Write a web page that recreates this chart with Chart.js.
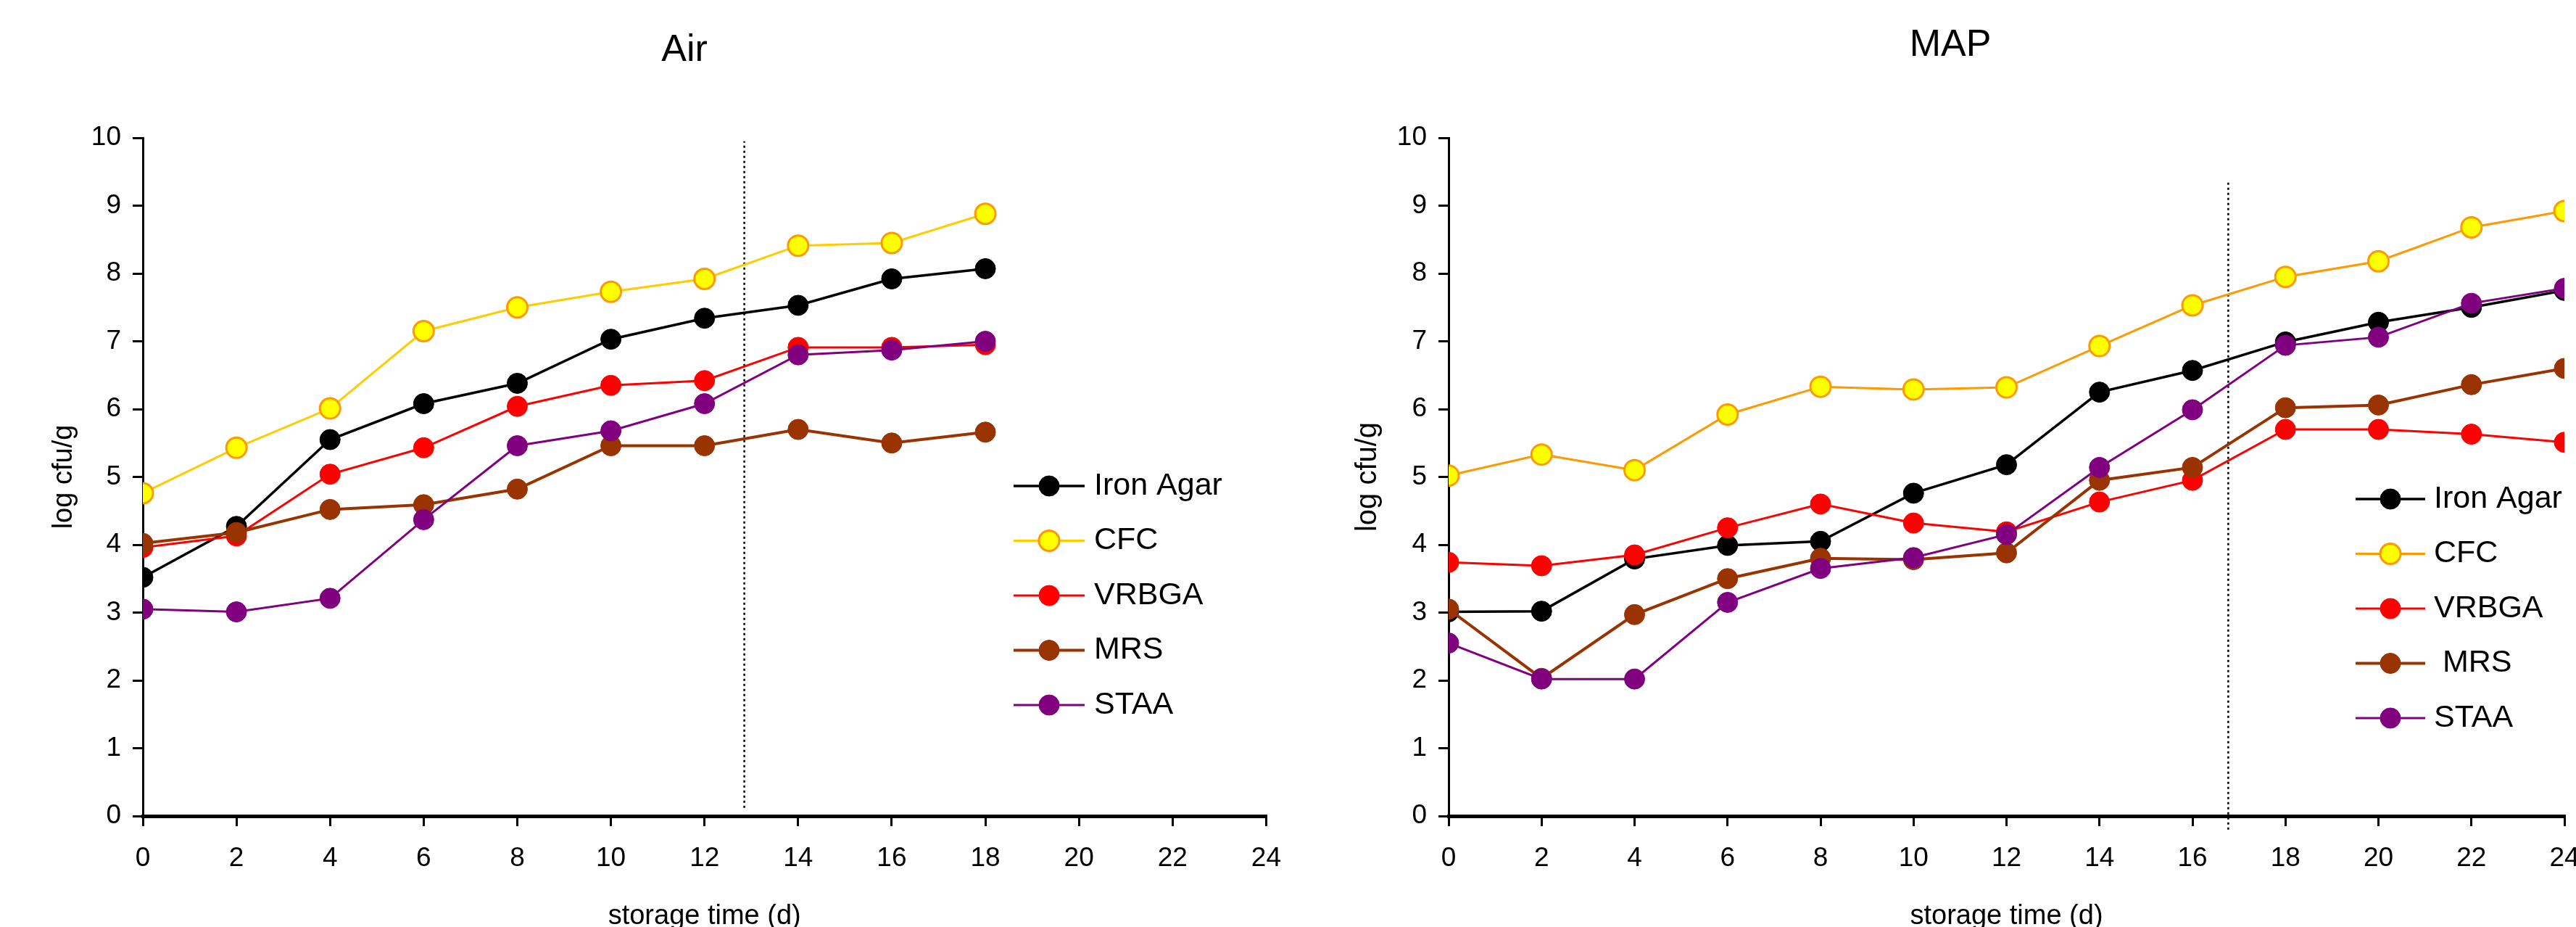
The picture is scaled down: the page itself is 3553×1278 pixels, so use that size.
<!DOCTYPE html>
<html>
<head>
<meta charset="utf-8">
<title>Air / MAP</title>
<script src="https://cdn.jsdelivr.net/npm/chart.js@4.4.1/dist/chart.umd.min.js"></script>
<style>
  html, body { margin: 0; padding: 0; background: #fff; overflow: hidden; width: 3553px; height: 1278px; }
  canvas { position: absolute; top: 0; }
  #grafikAir { left: 0; }
  #grafikMap { left: 1790px; }
</style>
</head>
<body>
<canvas id="grafikAir" width="1790" height="1300"></canvas>
<canvas id="grafikMap" width="1800" height="1300"></canvas>
<script>
// data
const airNames = ['Iron Agar', 'CFC', 'VRBGA', 'MRS', 'STAA'];
const mapNames = ['Iron Agar', 'CFC', 'VRBGA', ' MRS', 'STAA'];
const dayTicks = [0, 2, 4, 6, 8, 10, 12, 14, 16, 18, 20, 22, 24];
const logTicks = [0, 1, 2, 3, 4, 5, 6, 7, 8, 9, 10];

const airDays = [0, 2, 4, 6, 8, 10, 12, 14, 16, 18];
const airIronAgar = [3.52, 4.27, 5.55, 6.08, 6.38, 7.03, 7.34, 7.53, 7.92, 8.07];
const airCFC = [4.76, 5.43, 6.01, 7.15, 7.50, 7.73, 7.92, 8.41, 8.45, 8.88];
const airVRBGA = [3.96, 4.13, 5.04, 5.43, 6.04, 6.35, 6.42, 6.91, 6.91, 6.95];
const airMRS = [4.02, 4.18, 4.52, 4.59, 4.82, 5.46, 5.46, 5.70, 5.50, 5.66];
const airSTAA = [3.05, 3.01, 3.21, 4.37, 5.46, 5.68, 6.08, 6.80, 6.87, 7.00];
const airCutoff = [{ x: 12.85, y: 0.12 }, { x: 12.85, y: 9.95 }];

const mapDays = [0, 2, 4, 6, 8, 10, 12, 14, 16, 18, 20, 22, 24];
const mapIronAgar = [3.01, 3.02, 3.79, 3.99, 4.05, 4.76, 5.18, 6.25, 6.57, 6.99, 7.28, 7.50, 7.75];
const mapCFC = [5.02, 5.33, 5.10, 5.92, 6.33, 6.29, 6.32, 6.93, 7.53, 7.95, 8.18, 8.68, 8.92];
const mapVRBGA = [3.74, 3.69, 3.85, 4.25, 4.60, 4.32, 4.19, 4.63, 4.95, 5.70, 5.70, 5.63, 5.51];
const mapMRS = [3.05, 2.03, 2.97, 3.50, 3.80, 3.78, 3.88, 4.95, 5.14, 6.02, 6.06, 6.36, 6.60];
const mapSTAA = [2.55, 2.02, 2.02, 3.15, 3.65, 3.81, 4.15, 5.14, 5.99, 6.94, 7.06, 7.56, 7.78];
const mapCutoff = [{ x: 16.77, y: -0.2 }, { x: 16.77, y: 9.36 }];

// styles
const fontFamily = '"Liberation Sans", Arial, sans-serif';
const airLineColors = ['#000000', '#FFCC00', '#FF0000', '#993300', '#800080'];
const mapLineColors = ['#000000', '#FF9900', '#FF0000', '#993300', '#800080'];
const pointFills = ['#000000', '#FFFF00', '#FF0000', '#993300', '#800080'];
const pointBorders = ['#000000', '#FF9900', '#FF0000', '#993300', '#800080'];
const lineWidths = [3.5, 3, 3, 4, 3];

Chart.defaults.font.family = fontFamily;
Chart.defaults.color = '#000';

function buatDatasets(days, seriesList, names, lineColors, cutoff) {
  const sets = seriesList.map((values, i) => ({
    label: names[i],
    data: values.map((v, j) => ({ x: days[j], y: v })),
    borderColor: lineColors[i],
    borderWidth: lineWidths[i],
    pointRadius: 14,
    pointBackgroundColor: pointFills[i],
    pointBorderColor: pointBorders[i],
    pointBorderWidth: i === 1 ? 3 : 1,
    order: seriesList.length - i,
    tension: 0
  }));
  sets.push({
    label: 'cutoff',
    data: cutoff,
    borderColor: '#000',
    borderWidth: 2.5,
    borderDash: [3, 4],
    pointRadius: 0,
    clip: false,
    order: 10
  });
  return sets;
}

// title above each panel
const panelTitle = {
  id: 'panelTitle',
  afterDraw(chart, args, opts) {
    const ctx = chart.ctx;
    ctx.save();
    ctx.font = opts.size + 'px ' + fontFamily;
    ctx.fillStyle = '#000';
    ctx.textAlign = 'center';
    ctx.textBaseline = 'middle';
    ctx.fillText(opts.text, opts.x, opts.y);
    ctx.restore();
  }
};

// legend inside the plot, like the original
const sideLegend = {
  id: 'sideLegend',
  afterDatasetsDraw(chart, args, opts) {
    const ctx = chart.ctx;
    ctx.save();
    opts.labels.forEach((label, i) => {
      const ds = chart.data.datasets[i];
      const y = opts.top + i * opts.rowGap;
      ctx.strokeStyle = ds.borderColor;
      ctx.lineWidth = ds.borderWidth;
      ctx.beginPath();
      ctx.moveTo(opts.lineStart, y);
      ctx.lineTo(opts.lineEnd, y);
      ctx.stroke();
      ctx.beginPath();
      ctx.arc((opts.lineStart + opts.lineEnd) / 2, y, ds.pointRadius, 0, Math.PI * 2);
      ctx.fillStyle = ds.pointBackgroundColor;
      ctx.fill();
      ctx.lineWidth = ds.pointBorderWidth;
      ctx.strokeStyle = ds.pointBorderColor;
      ctx.stroke();
      ctx.fillStyle = '#000';
      ctx.font = opts.size + 'px ' + fontFamily;
      ctx.textAlign = 'left';
      ctx.textBaseline = 'middle';
      ctx.fillText(label, opts.textX, y);
    });
    ctx.restore();
  }
};

function buatScales(yAxisWidth, yTitlePad, yTitleSize) {
  return {
    x: {
      type: 'linear',
      min: 0,
      max: 24,
      afterBuildTicks: (axis) => { axis.ticks = dayTicks.map(v => ({ value: v })); },
      afterFit: (axis) => { axis.height = 175; },
      grid: { drawOnChartArea: false, tickLength: 14, lineWidth: 3, color: '#000' },
      border: { color: '#000', width: 5 },
      ticks: { padding: 23, autoSkip: false, maxRotation: 0, font: { size: 37 } },
      title: { display: true, text: 'storage time (d)', font: { size: 38 }, padding: { top: 0, bottom: 14 } }
    },
    y: {
      min: 0,
      max: 10,
      afterBuildTicks: (axis) => { axis.ticks = logTicks.map(v => ({ value: v })); },
      afterFit: (axis) => { axis.width = yAxisWidth; },
      grid: { drawOnChartArea: false, tickLength: 14, lineWidth: 3, color: '#000' },
      border: { color: '#000', width: 3 },
      ticks: { padding: 16, font: { size: 37 } },
      title: { display: true, text: 'log cfu/g', font: { size: yTitleSize }, padding: { top: yTitlePad, bottom: 0 } }
    }
  };
}

function tampilkanChart(canvasId, datasets, scales, padRight, titleOpts, legendOpts) {
  const ctx = document.getElementById(canvasId).getContext('2d');
  new Chart(ctx, {
    type: 'line',
    data: { datasets: datasets },
    options: {
      responsive: false,
      animation: false,
      layout: { padding: { left: 0, right: padRight, top: 190, bottom: 0 } },
      scales: scales,
      plugins: {
        legend: { display: false },
        tooltip: { enabled: false },
        panelTitle: titleOpts,
        sideLegend: legendOpts
      }
    },
    plugins: [panelTitle, sideLegend]
  });
}

tampilkanChart(
  'grafikAir',
  buatDatasets(airDays, [airIronAgar, airCFC, airVRBGA, airMRS, airSTAA], airNames, airLineColors, airCutoff),
  buatScales(197, 66, 38),
  23,
  { text: 'Air', x: 944, y: 70, size: 52 },
  { labels: airNames, top: 670, rowGap: 75.5, lineStart: 1398, lineEnd: 1496, textX: 1509, size: 43 }
);

tampilkanChart(
  'grafikMap',
  buatDatasets(mapDays, [mapIronAgar, mapCFC, mapVRBGA, mapMRS, mapSTAA], mapNames, mapLineColors, mapCutoff),
  buatScales(208, 73, 40),
  53,
  { text: 'MAP', x: 900, y: 63, size: 52 },
  { labels: mapNames, top: 688, rowGap: 75.5, lineStart: 1459, lineEnd: 1555, textX: 1567, size: 43 }
);
</script>
</body>
</html>
